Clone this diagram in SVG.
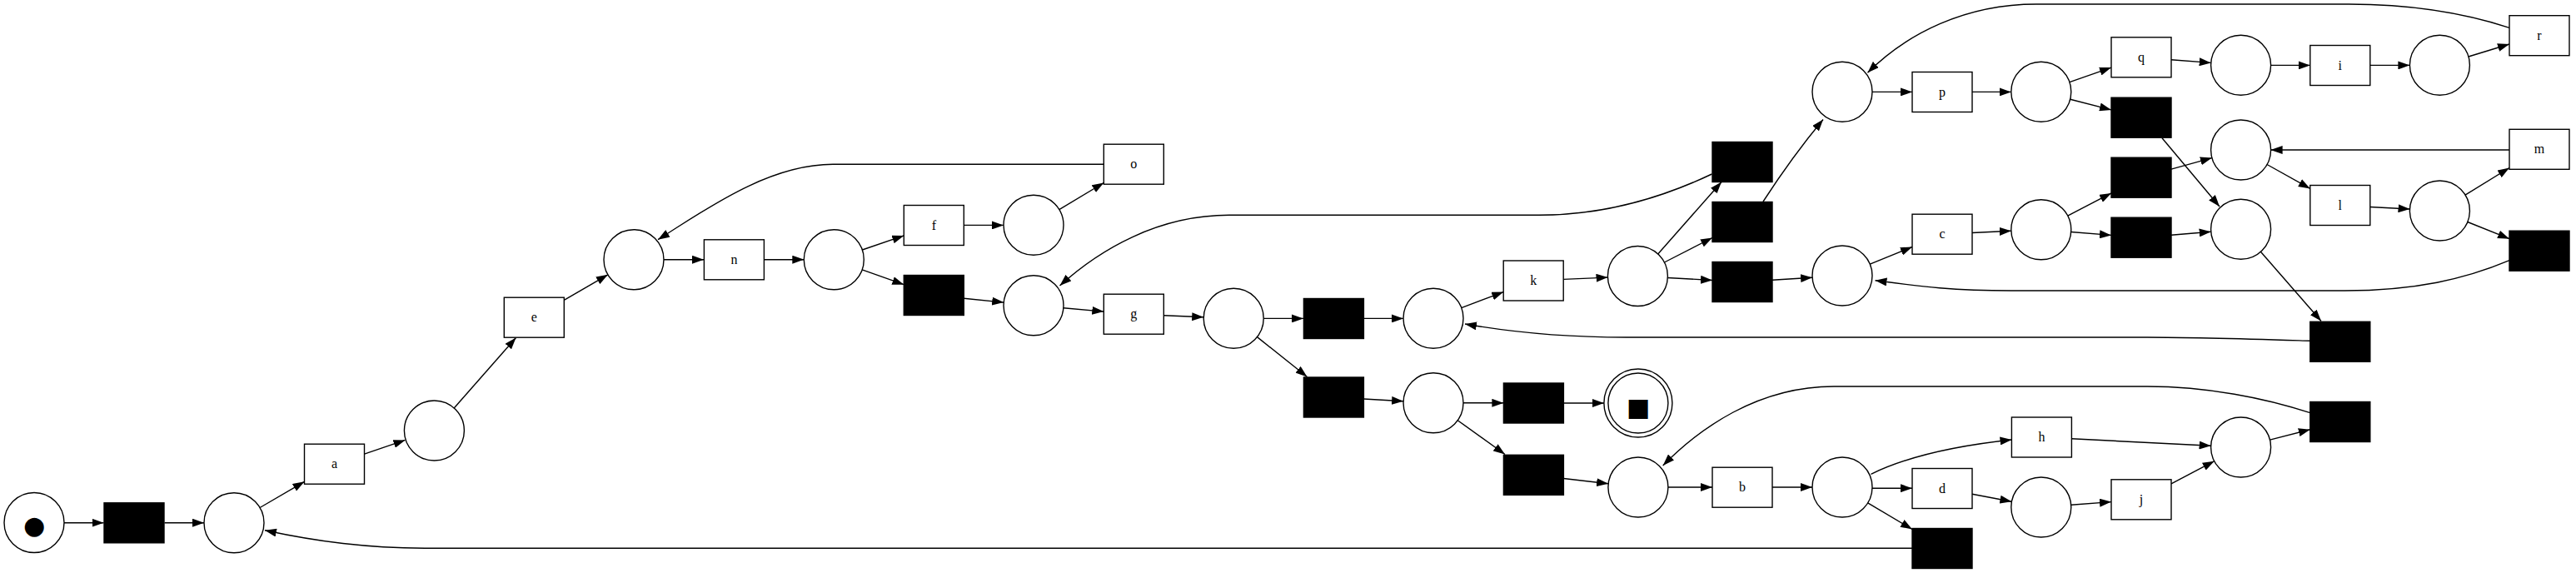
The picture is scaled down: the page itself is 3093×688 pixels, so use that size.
<svg xmlns="http://www.w3.org/2000/svg" width="3093" height="688" viewBox="0 0 3093 688">
<style>
.pl{fill:#fff;stroke:#000;stroke-width:1.4}
.tr{fill:#fff;stroke:#000;stroke-width:1.4}
.sl{fill:#000;stroke:#000;stroke-width:1.4}
.e{fill:none;stroke:#000;stroke-width:1.4;marker-end:url(#ah)}
.lb{font-family:"Liberation Serif","Times New Roman",serif;font-size:16px;text-anchor:middle;fill:#000}
.tk{font-family:"DejaVu Sans",sans-serif;text-anchor:middle;fill:#000}
</style>
<defs>
<marker id="ah" markerUnits="userSpaceOnUse" viewBox="0 0 14 10" refX="14" refY="5" markerWidth="14" markerHeight="10" orient="auto">
<path d="M0,0 L14,5 L0,10 z" fill="#000"/>
</marker>
</defs>
<rect width="3093" height="688" fill="#fff"/>
<g id="connectors">
<path class="e" d="M77,627.7 H124.5"/>
<path class="e" d="M197.5,627.7 H245"/>
<path class="e" d="M312.1,609.5 L365.5,578.3"/>
<path class="e" d="M437.5,545.1 L486.5,528.4"/>
<path class="e" d="M545.2,490 L619.5,405.5"/>
<path class="e" d="M677.3,360.3 L729.9,329.8"/>
<path class="e" d="M797,311.7 H845"/>
<path class="e" d="M917.6,311.7 H965.3"/>
<path class="e" d="M1035.4,300 L1085.3,282.9"/>
<path class="e" d="M1035.2,323.8 L1085.3,341.7"/>
<path class="e" d="M1157.3,270.4 H1205"/>
<path class="e" d="M1271.8,251.6 L1325.3,219.5"/>
<path class="e" d="M1325.3,197.3 H1000 C920,197.3 841,256 790,287.7"/>
<path class="e" d="M1157.3,358.2 L1205.2,363.1"/>
<path class="e" d="M1276.9,369.8 L1325.3,374.1"/>
<path class="e" d="M1397.3,378.7 L1445.2,380.8"/>
<path class="e" d="M1517.2,382.4 H1565"/>
<path class="e" d="M1509.5,404.6 L1569.5,452.5"/>
<path class="e" d="M1637.7,382.4 H1685"/>
<path class="e" d="M1637.4,479 L1685.1,481.7"/>
<path class="e" d="M1754.7,369.6 L1805.2,350.6"/>
<path class="e" d="M1877.2,335.4 L1930.5,333.1"/>
<path class="e" d="M1757,483.8 H1805.4"/>
<path class="e" d="M1750.2,504.7 L1807,545.5"/>
<path class="e" d="M1877.4,484 H1925.9"/>
<path class="e" d="M1877.4,574.5 L1931.1,580.8"/>
<path class="e" d="M1990.7,305 L2067,218.5"/>
<path class="e" d="M1998.4,315 L2056,285.5"/>
<path class="e" d="M2002.3,333.5 L2056,336.5"/>
<path class="e" d="M2055.4,209 C1990,240 1920,258.3 1848,258.3 H1476 C1390,258.3 1320,300 1272.5,343"/>
<path class="e" d="M2117,242 Q2152,188 2189,143.5"/>
<path class="e" d="M2128,336.3 L2176.1,333.2"/>
<path class="e" d="M2248,110.4 H2296"/>
<path class="e" d="M2368,110.4 H2414.8"/>
<path class="e" d="M2484.9,98.6 L2535,81.1"/>
<path class="e" d="M2485.7,119.3 L2535,131.9"/>
<path class="e" d="M2607,71.7 L2654.7,75.4"/>
<path class="e" d="M2726.6,78.4 H2773.8"/>
<path class="e" d="M2845.8,78.4 H2893.4"/>
<path class="e" d="M2963.9,68 L3013,53"/>
<path class="e" d="M3013,33.3 C2960,16 2900,5 2820,5 H2445 C2360,5 2290,40 2242.5,87.3"/>
<path class="e" d="M2596,165.7 L2665,248"/>
<path class="e" d="M2245.3,317.2 L2296,296.5"/>
<path class="e" d="M2368,279.5 L2414.8,277.3"/>
<path class="e" d="M2482.7,259.1 L2535,231.9"/>
<path class="e" d="M2486.7,278.5 L2535,282.4"/>
<path class="e" d="M2607,203.2 L2655.9,189.6"/>
<path class="e" d="M2607,282.2 L2654.7,278.3"/>
<path class="e" d="M2722,197.5 L2773.8,226.4"/>
<path class="e" d="M2845.8,248.5 L2893.5,251"/>
<path class="e" d="M2960,234.1 L3013,201.5"/>
<path class="e" d="M2962.8,266.5 L3013,286.7"/>
<path class="e" d="M3013,180 H2726.6"/>
<path class="e" d="M3013,312.7 C2960,335 2900,349 2815,349 H2415 C2340,349 2300,343 2251.5,336.7"/>
<path class="e" d="M2714.4,302.3 L2787,385.5"/>
<path class="e" d="M2773.8,409.3 C2700,407 2640,405 2578,405 H1953 C1870,405 1810,398 1759,389"/>
<path class="e" d="M2003,585 H2056"/>
<path class="e" d="M2128,585 H2176"/>
<path class="e" d="M2246.5,569.3 C2290,548 2350,535 2415.5,528"/>
<path class="e" d="M2248,586.2 H2296"/>
<path class="e" d="M2242.7,603.8 L2296,635.5"/>
<path class="e" d="M2487.4,526.8 L2654.6,535.2"/>
<path class="e" d="M2368,593.3 L2415.4,602.3"/>
<path class="e" d="M2486.7,606.2 L2535,602.6"/>
<path class="e" d="M2607,580.9 L2658.7,553.7"/>
<path class="e" d="M2725.5,528.1 L2773.8,515.7"/>
<path class="e" d="M2773.8,495.7 C2720,478 2650,464 2578,464 H2202 C2110,464 2040,515 1996.7,559"/>
<path class="e" d="M2296,658.3 H517 C440,658.3 380,650 318,636.7"/>
</g>
<g id="p_start"><circle class="pl" cx="41" cy="627.5" r="36"/><text class="tk" x="41" y="641" font-size="30">●</text></g>
<g id="p1"><circle class="pl" cx="281" cy="627.7" r="36"/></g>
<g id="p2"><circle class="pl" cx="521.4" cy="517" r="36"/></g>
<g id="p3"><circle class="pl" cx="761" cy="311.7" r="36"/></g>
<g id="p4"><circle class="pl" cx="1001.3" cy="311.7" r="36"/></g>
<g id="p5"><circle class="pl" cx="1241" cy="270.3" r="36"/></g>
<g id="p6"><circle class="pl" cx="1241" cy="366.7" r="36"/></g>
<g id="p7"><circle class="pl" cx="1481.2" cy="382.3" r="36"/></g>
<g id="p10"><circle class="pl" cx="1721" cy="382.3" r="36"/></g>
<g id="p11"><circle class="pl" cx="1721" cy="483.7" r="36"/></g>
<g id="p_end"><circle class="pl" cx="1966.9" cy="484" r="41"/><circle class="pl" cx="1966.9" cy="484" r="36"/><text class="tk" x="1966.9" y="499" font-size="30">■</text></g>
<g id="p13"><circle class="pl" cx="1966.9" cy="585" r="36"/></g>
<g id="p9"><circle class="pl" cx="1966.4" cy="331.5" r="36"/></g>
<g id="p8"><circle class="pl" cx="2212" cy="110.3" r="36"/></g>
<g id="p22"><circle class="pl" cx="2212" cy="331" r="36"/></g>
<g id="p14"><circle class="pl" cx="2212" cy="585" r="36"/></g>
<g id="p15"><circle class="pl" cx="2450.8" cy="110.3" r="36"/></g>
<g id="p20"><circle class="pl" cx="2450.8" cy="275.7" r="36"/></g>
<g id="p24"><circle class="pl" cx="2450.8" cy="609" r="36"/></g>
<g id="p16"><circle class="pl" cx="2690.6" cy="78.3" r="36"/></g>
<g id="p18"><circle class="pl" cx="2690.6" cy="180" r="36"/></g>
<g id="p19"><circle class="pl" cx="2690.6" cy="275.3" r="36"/></g>
<g id="p23"><circle class="pl" cx="2690.6" cy="537" r="36"/></g>
<g id="p17"><circle class="pl" cx="2929.4" cy="78.3" r="36"/></g>
<g id="p21"><circle class="pl" cx="2929.4" cy="253" r="36"/></g>
<g id="t1"><rect class="sl" x="125" y="603.8" width="72" height="48"/></g>
<g id="t_a"><rect class="tr" x="365.5" y="533.2" width="72" height="48"/><text class="lb" x="401.5" y="562.2">a</text></g>
<g id="t_e"><rect class="tr" x="605.3" y="357.2" width="72" height="48"/><text class="lb" x="641.3" y="386.2">e</text></g>
<g id="t_n"><rect class="tr" x="845.4" y="287.8" width="72" height="48"/><text class="lb" x="881.4" y="316.8">n</text></g>
<g id="t_f"><rect class="tr" x="1085.3" y="246.5" width="72" height="48"/><text class="lb" x="1121.3" y="275.5">f</text></g>
<g id="t2"><rect class="sl" x="1085.3" y="330.5" width="72" height="48"/></g>
<g id="t_o"><rect class="tr" x="1325.3" y="173.2" width="72" height="48"/><text class="lb" x="1361.3" y="202.2">o</text></g>
<g id="t_g"><rect class="tr" x="1325.3" y="353.2" width="72" height="48"/><text class="lb" x="1361.3" y="382.2">g</text></g>
<g id="t6"><rect class="sl" x="1565.4" y="358.5" width="72" height="48"/></g>
<g id="t7"><rect class="sl" x="1565.4" y="453" width="72" height="48"/></g>
<g id="t_k"><rect class="tr" x="1805.2" y="313" width="72" height="48"/><text class="lb" x="1841.2" y="342">k</text></g>
<g id="t8"><rect class="sl" x="1805.4" y="460" width="72" height="48"/></g>
<g id="t9"><rect class="sl" x="1805.4" y="546.3" width="72" height="48"/></g>
<g id="t3"><rect class="sl" x="2056" y="170.5" width="72" height="48"/></g>
<g id="t4"><rect class="sl" x="2056" y="242.5" width="72" height="48"/></g>
<g id="t5"><rect class="sl" x="2056" y="314.5" width="72" height="48"/></g>
<g id="t_b"><rect class="tr" x="2056" y="561.2" width="72" height="48"/><text class="lb" x="2092" y="590.2">b</text></g>
<g id="t_p"><rect class="tr" x="2296" y="86.5" width="72" height="48"/><text class="lb" x="2332" y="115.5">p</text></g>
<g id="t_c"><rect class="tr" x="2296" y="257.2" width="72" height="48"/><text class="lb" x="2332" y="286.2">c</text></g>
<g id="t_d"><rect class="tr" x="2296" y="562.5" width="72" height="48"/><text class="lb" x="2332" y="591.5">d</text></g>
<g id="t10"><rect class="sl" x="2296" y="634.5" width="72" height="48"/></g>
<g id="t_q"><rect class="tr" x="2535" y="44.8" width="72" height="48"/><text class="lb" x="2571" y="73.8">q</text></g>
<g id="t11"><rect class="sl" x="2535" y="117.2" width="72" height="48"/></g>
<g id="t12"><rect class="sl" x="2535" y="189.2" width="72" height="48"/></g>
<g id="t13"><rect class="sl" x="2535" y="261.2" width="72" height="48"/></g>
<g id="t_h"><rect class="tr" x="2415.4" y="501" width="72" height="48"/><text class="lb" x="2451.4" y="530">h</text></g>
<g id="t_j"><rect class="tr" x="2535" y="575.8" width="72" height="48"/><text class="lb" x="2571" y="604.8">j</text></g>
<g id="t_i"><rect class="tr" x="2773.8" y="54.5" width="72" height="48"/><text class="lb" x="2809.8" y="83.5">i</text></g>
<g id="t_l"><rect class="tr" x="2773.8" y="222.5" width="72" height="48"/><text class="lb" x="2809.8" y="251.5">l</text></g>
<g id="t15"><rect class="sl" x="2773.8" y="386.3" width="72" height="48"/></g>
<g id="t16"><rect class="sl" x="2773.8" y="482.5" width="72" height="48"/></g>
<g id="t_r"><rect class="tr" x="3013" y="18.7" width="72" height="48"/><text class="lb" x="3049" y="47.7">r</text></g>
<g id="t_m"><rect class="tr" x="3013" y="155.3" width="72" height="48"/><text class="lb" x="3049" y="184.3">m</text></g>
<g id="t14"><rect class="sl" x="3013" y="277.2" width="72" height="48"/></g>
</svg>
